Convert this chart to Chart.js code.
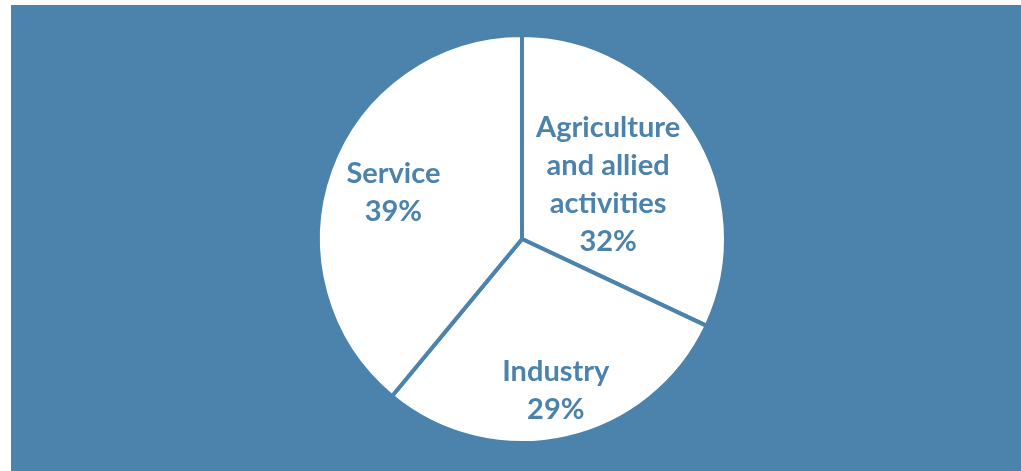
<!DOCTYPE html>
<html>
<head>
<meta charset="utf-8">
<script src="https://cdn.jsdelivr.net/npm/chart.js@4/dist/chart.umd.min.js"></script>
<style>
  html, body { margin: 0; padding: 0; background: #ffffff; }
  #wrap {
    position: absolute;
    left: 11px;
    top: 5px;
    width: 1010px;
    height: 466px;
    background: #4b83ad;
  }
</style>
</head>
<body>
<div id="wrap"><canvas id="myChart" width="1010" height="466"></canvas></div>
<script>
// 데이터
const sectors = ["Agriculture\nand allied\nactivities", "Industry", "Service"];
const shares = [32, 29, 39];

const BLUE = "#4b83ad";

// 라벨 위치 (반지름 비율) - 엑셀 best-fit 배치 흉내
const labelRadius = [0.5, 0.76, 0.67];

const sliceLabels = {
  id: "sliceLabels",
  afterDatasetsDraw(chart) {
    const ctx = chart.ctx;
    const meta = chart.getDatasetMeta(0);
    ctx.save();
    ctx.font = "bold 29px Lato, 'Open Sans', sans-serif";
    ctx.fillStyle = BLUE;
    ctx.textAlign = "center";
    ctx.textBaseline = "middle";
    meta.data.forEach((arc, i) => {
      const mid = (arc.startAngle + arc.endAngle) / 2;
      const r = arc.outerRadius * labelRadius[i];
      const x = arc.x + Math.cos(mid) * r;
      const y = arc.y + Math.sin(mid) * r;
      const lines = sectors[i].split("\n").concat([shares[i] + "%"]);
      const lh = 38;
      const top = y - ((lines.length - 1) * lh) / 2;
      lines.forEach((line, k) => ctx.fillText(line, x, top + k * lh));
    });
    ctx.restore();
  },
};

const ctx = document.getElementById("myChart").getContext("2d");
new Chart(ctx, {
  type: "pie",
  data: {
    labels: sectors,
    datasets: [
      {
        data: shares,
        backgroundColor: "#ffffff",
        borderColor: BLUE,
        borderWidth: 4,
      },
    ],
  },
  options: {
    responsive: false,
    animation: false,
    layout: { padding: { top: 28, bottom: 26, left: 12, right: 0 } },
    plugins: {
      legend: { display: false },
      tooltip: { enabled: false },
    },
  },
  plugins: [sliceLabels],
});
</script>
</body>
</html>
